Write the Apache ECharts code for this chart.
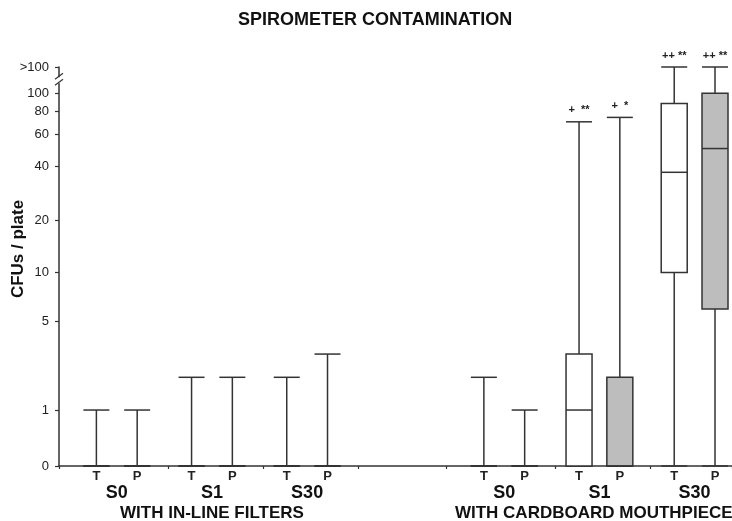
<!DOCTYPE html>
<html>
<head>
<meta charset="utf-8">
<script src="https://cdn.jsdelivr.net/npm/echarts@6/dist/echarts.min.js"></script>
<style>
html,body{margin:0;padding:0;background:#fff;}
#chart{width:732px;height:521px;}
</style>
</head>
<body>
<div id="chart"></div>
<script>
// ---------------- DATA ----------------
const boxLabels = ['T','P','T','P','T','P','T','P','T','P','T','P'];
const conditionLabels = ['S0','S1','S30','S0','S1','S30'];
const setupLabels = ['WITH IN-LINE FILTERS','WITH CARDBOARD MOUTHPIECES'];
const OVER = 139; // plotting value used for the ">100" level
const minVals    = [0,0,0,0,0,0, 0,0,0,0,0,0];
const q1Vals     = [0,0,0,0,0,0, 0,0,0,0,10,6];
const medianVals = [0,0,0,0,0,0, 0,0,1,0,37,50];
const q3Vals     = [0,0,0,0,0,0, 0,0,3,2,88,100];
const maxVals    = [1,1,2,2,2,3, 2,1,70,74,OVER,OVER];
const significance = ['','','','','','','','','+  **','+  *','++ **','++ **'];
const yTickValues = [0,1,5,10,20,40,60,80,100,OVER];
const yTickLabels = ['0','1','5','10','20','40','60','80','100','>100'];

// ---------------- LAYOUT ----------------
const N_SLOTS = 99;
const boxSlots = [5,11,19,25,33,39,62,68,76,82,90,96];
const conditionSlots = [8,22,36,65,79,93];
const setupSlots = [22,79];
const boundarySlots = [0,16,30,44,57,73,87];
const FONT = "'Liberation Sans', Arial, Helvetica, sans-serif";
const LINE = '#333333';

const tf = v => Math.log10(v + 1);

function buildCats(slots, labels){
  const a = new Array(N_SLOTS).fill('');
  slots.forEach((s,i)=>{ a[s] = labels[i]; });
  return a;
}
const cats0 = buildCats(boxSlots, boxLabels);
const cats1 = buildCats(conditionSlots, conditionLabels);
const cats2 = buildCats(setupSlots, setupLabels);

const seriesData = boxLabels.map((lab,i)=>[
  boxSlots[i], tf(minVals[i]), tf(q1Vals[i]), tf(medianVals[i]), tf(q3Vals[i]), tf(maxVals[i]),
  lab === 'P' ? 1 : 0, i
]);

const HW = 13;
function renderItem(params, api){
  const x = api.value(0);
  const cx = api.coord([x, 0])[0];
  const y = [1,2,3,4,5].map(k => api.coord([x, api.value(k)])[1]);
  const [yMin, yQ1, yMed, yQ3, yMax] = y;
  const fill = api.value(6) === 1 ? '#bdbdbd' : '#ffffff';
  const idx = api.value(7);
  const ls = {stroke: LINE, lineWidth: 1.5, fill: null};
  const children = [
    {type:'line', shape:{x1:cx,y1:yQ1,x2:cx,y2:yMin}, style:ls},
    {type:'line', shape:{x1:cx,y1:yQ3,x2:cx,y2:yMax}, style:ls},
    {type:'line', shape:{x1:cx-HW,y1:yMin,x2:cx+HW,y2:yMin}, style:ls},
    {type:'line', shape:{x1:cx-HW,y1:yMax,x2:cx+HW,y2:yMax}, style:ls},
    {type:'rect', shape:{x:cx-HW,y:yQ3,width:2*HW,height:Math.max(yQ1-yQ3,0)}, style:{fill:fill, stroke:LINE, lineWidth:1.5}},
    {type:'line', shape:{x1:cx-HW,y1:yMed,x2:cx+HW,y2:yMed}, style:ls}
  ];
  if (significance[idx]) {
    children.push({type:'text', style:{text: significance[idx], x: cx, y: yMax - 6,
      align:'center', verticalAlign:'bottom', font: 'bold 11px ' + FONT, fill:'#222'}});
  }
  return {type:'group', children};
}

const chart = echarts.init(document.getElementById('chart'), null, {renderer:'canvas'});
const hiddenAxis = {show:false};
chart.setOption({
  animation:false,
  backgroundColor:'#ffffff',
  textStyle:{fontFamily: FONT},
  title:{text:'SPIROMETER CONTAMINATION', left:238, top:11, padding:0,
    textStyle:{fontSize:18, fontWeight:'bold', color:'#111', fontFamily:FONT}},
  grid:{left:59, right:0, top:67, bottom:55, containLabel:false, outerBoundsMode:'none'},
  xAxis:[
    {type:'category', data:cats0, boundaryGap:true, position:'bottom',
      axisLine:{lineStyle:{color:LINE, width:1.5}},
      axisTick:{show:true, length:3, interval:(i)=>boundarySlots.includes(i), lineStyle:{color:LINE, width:1.2}},
      axisLabel:{interval:0, margin:4, fontSize:13, fontWeight:'bold', color:'#222', fontFamily:FONT},
      splitLine:{show:false}},
    {type:'category', data:cats1, boundaryGap:true, position:'bottom',
      axisLine:hiddenAxis, axisTick:hiddenAxis, splitLine:hiddenAxis,
      axisLabel:{interval:0, margin:18, fontSize:18, fontWeight:'bold', color:'#111', fontFamily:FONT}},
    {type:'category', data:cats2, boundaryGap:true, position:'bottom',
      axisLine:hiddenAxis, axisTick:hiddenAxis, splitLine:hiddenAxis,
      axisLabel:{interval:0, margin:39, fontSize:17, fontWeight:'bold', color:'#111', fontFamily:FONT}}
  ],
  yAxis:{type:'value', min:0, max:tf(OVER),
    name:'CFUs / plate', nameLocation:'middle', nameRotate:90, nameGap:32, nameMoveOverlap:false,
    nameTextStyle:{fontSize:17, fontWeight:'bold', color:'#111', fontFamily:FONT, padding:[0,0,0,35]},
    axisLine:{show:true, lineStyle:{color:LINE, width:1.5}},
    axisTick:{show:true, length:4, customValues:yTickValues.map(tf), lineStyle:{color:LINE, width:1.2}},
    axisLabel:{customValues:yTickValues.map(tf), margin:10, fontSize:13, color:'#222', fontFamily:FONT,
      formatter:(t)=>{ const i = yTickValues.findIndex(v=>Math.abs(tf(v)-t)<1e-6); return i>=0 ? yTickLabels[i] : ''; }},
    splitLine:{show:false}},
  series:[{type:'custom', renderItem, data:seriesData, clip:false,
    encode:{x:0, y:[1,2,3,4,5]}}]
});

// axis break marks between 100 and >100
const tBreak = (tf(100) + tf(OVER)) / 2;
const p = chart.convertToPixel({gridIndex:0}, [0, tBreak]);
const gx = chart.convertToPixel({gridIndex:0}, [0, 0])[0] - (chart.convertToPixel({gridIndex:0}, [1, 0])[0] - chart.convertToPixel({gridIndex:0}, [0, 0])[0]) / 2;
const by = p[1];
chart.setOption({graphic:[
  {type:'rect', shape:{x:gx-3, y:by-3, width:6, height:6}, style:{fill:'#fff'}, z:100},
  {type:'line', shape:{x1:gx-4, y1:by-1, x2:gx+4, y2:by-7}, style:{stroke:LINE, lineWidth:1.2}, z:101},
  {type:'line', shape:{x1:gx-4, y1:by+5, x2:gx+4, y2:by-1}, style:{stroke:LINE, lineWidth:1.2}, z:101}
]});
</script>
</body>
</html>
